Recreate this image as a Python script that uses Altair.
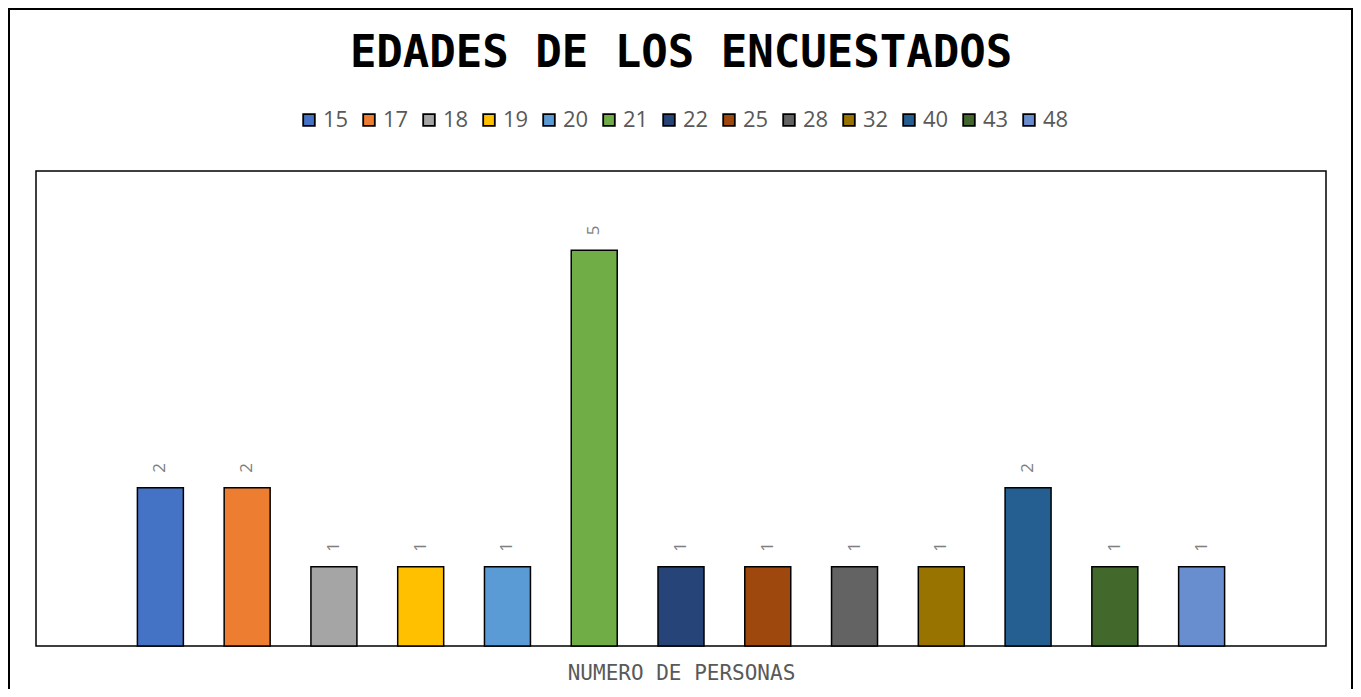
import altair as alt
import pandas as pd

ages = ["15", "17", "18", "19", "20", "21", "22", "25", "28", "32", "40", "43", "48"]
counts = [2, 2, 1, 1, 1, 5, 1, 1, 1, 1, 2, 1, 1]
colors = ["#4472C4", "#ED7D31", "#A5A5A5", "#FFC000", "#5B9BD5", "#70AD47",
          "#264478", "#9E480E", "#636363", "#997300", "#255E91", "#43682B", "#698ED0"]

df = pd.DataFrame({"edad": ages, "n": counts})

W, H = 1290, 475

x = alt.X("edad:N", sort=ages,
          scale=alt.Scale(paddingInner=0.47, paddingOuter=0.235, range=[81, 1209]),
          axis=alt.Axis(labels=False, ticks=False, domain=False, grid=False,
                        title="NUMERO DE PERSONAS", titleFont="DejaVu Sans Mono",
                        titleFontSize=21, titleFontWeight="normal", titleColor="#595959",
                        titlePadding=16))
y = alt.Y("n:Q", scale=alt.Scale(domain=[0, 6]), axis=None)

bars = alt.Chart(df).mark_bar(stroke="black", strokeWidth=1.5).encode(
    x=x, y=y,
    color=alt.Color("edad:N", sort=ages,
                    scale=alt.Scale(domain=ages, range=colors),
                    legend=alt.Legend(title=None, orient="none", legendX=262, legendY=-62,
                                      direction="horizontal", columns=13,
                                      symbolType="square", symbolSize=135,
                                      symbolStrokeColor="black", symbolStrokeWidth=1.8,
                                      labelFont="Open Sans", labelFontSize=22,
                                      labelColor="#595959", columnPadding=9,
                                      labelOffset=3))
)

labels = alt.Chart(df).mark_text(angle=270, align="left", baseline="middle", dx=15,
                                 fontSize=17, font="Open Sans", color="#7F7F7F").encode(
    x=x, y=y, text="n:Q"
)

frame = alt.Chart(alt.Data(values=[{}])).mark_rect(fill=None, stroke="black", strokeWidth=2).encode(
    x=alt.value(-27), x2=alt.value(W + 26), y=alt.value(-162), y2=alt.value(H + 80)
)

chart = alt.layer(bars, labels, frame).properties(
    width=W, height=H,
    autosize=alt.AutoSizeParams(type="none"),
    padding={"left": 28, "top": 163, "right": 27, "bottom": 43},
    title=alt.TitleParams("EDADES DE LOS ENCUESTADOS", font="DejaVu Sans Mono",
                          fontSize=44, fontWeight="bold", color="black",
                          anchor="middle", frame="group", offset=0,
                          baseline="alphabetic", dy=103),
).configure_view(stroke="black", strokeWidth=1.5)

chart.save("out.html", embed_options={"renderer": "svg", "actions": False})
